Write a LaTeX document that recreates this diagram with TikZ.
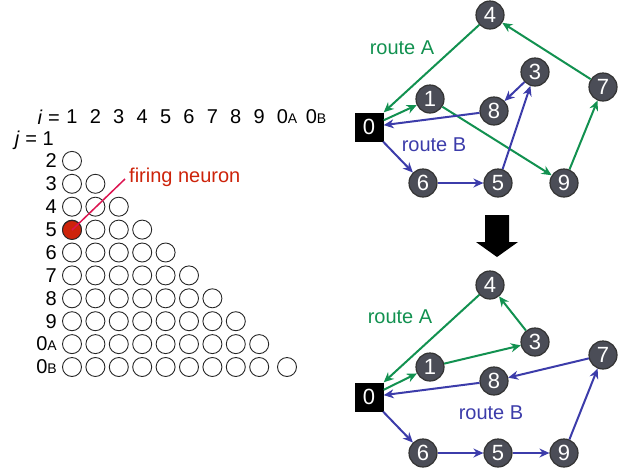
\documentclass[tikz,border=0pt]{standalone}
\usepackage{fontspec}
\setmainfont{Liberation Sans}
\usetikzlibrary{arrows.meta}

\definecolor{routeA}{RGB}{18,145,80}
\definecolor{routeB}{RGB}{60,60,170}
\definecolor{nodegray}{RGB}{75,77,87}
\definecolor{firered}{RGB}{205,35,10}
\definecolor{pinkline}{RGB}{220,20,80}

\newcommand{\sub}[1]{{\fontsize{14}{14}\selectfont #1}}

\begin{document}
\begin{tikzpicture}[x=1pt,y=-1pt,
    city/.style={circle, fill=nodegray, draw=black!80, line width=1.2pt, minimum size=28pt, inner sep=0pt,
                 text=white, font=\fontsize{22}{22}\selectfont},
    depot/.style={rectangle, fill=black, minimum size=29pt, inner sep=0pt,
                  text=white, font=\fontsize{22}{22}\selectfont},
    neuron/.style={circle, draw=black!85, line width=0.9pt, minimum size=19pt, inner sep=0pt},
    lbl/.style={font=\fontsize{20}{20}\selectfont, inner sep=0pt},
    ga/.style={routeA, line width=2pt, -{Stealth[length=10pt,width=9pt]}},
    gb/.style={routeB, line width=2pt, -{Stealth[length=10pt,width=9pt]}}]
    \useasboundingbox (0,0) rectangle (626,472);

    % neuron table
    \node[lbl, anchor=east] (ieq) at (60,117) {\textit{i} =};
    \foreach \c/\t [count=\k] in {1/1,2/2,3/3,4/4,5/5,6/6,7/7,8/8,9/9}
        \node[lbl] (h\c) at (72+23.4*\k-23.4,117) {\t};
    \node[lbl] (hA) at (287,117) {0\sub{A}};
    \node[lbl] (hB) at (316,117) {0\sub{B}};
    \node[lbl, anchor=east] (r1) at (54,140) {\textit{j} = 1};
    \foreach \r/\t [count=\k from 2] in {2/2,3/3,4/4,5/5,6/6,7/7,8/8,9/9,A/0\sub{A},B/0\sub{B}}
        \node[lbl, anchor=east] (r\r) at (57,138+22.9*\k-22.9) {\t};
    \foreach \j in {2,...,10}
        \foreach \c in {2,...,\j}
            \node[neuron] (n\j-\c) at (72+23.4*\c-46.8,138+22.9*\j-22.9) {};
    \foreach \c in {1,...,9}
        \node[neuron] (n11-\c) at (72+23.4*\c-23.4,367) {};
    \node[neuron] (n11-10) at (287,367) {};
    \node[neuron, fill=firered] (fire) at (72,230) {};
    \coordinate (tip) at (125,179);
    \draw[pinkline, line width=1.5pt] (fire.center) -- (tip);
    \node[lbl, text=firered, anchor=west] (firetxt) at (129,177) {firing neuron};

    % route before
    \node[depot] (a0) at (369,127) {0};
    \node[city] (a1) at (430,99) {1};
    \node[city] (a3) at (535,72) {3};
    \node[city] (a4) at (490,15) {4};
    \node[city] (a5) at (498,183) {5};
    \node[city] (a6) at (423,183) {6};
    \node[city] (a7) at (603,87) {7};
    \node[city] (a8) at (494,111) {8};
    \node[city] (a9) at (564,183) {9};
    \draw[ga] (a4) -- (a0.north east);
    \draw[ga] (a0) -- (a1);
    \draw[ga] (a1) -- (a9);
    \draw[ga] (a9) -- (a7);
    \draw[ga] (a7) -- (a4);
    \draw[gb] (a0) -- (a6);
    \draw[gb] (a6) -- (a5);
    \draw[gb] (a5) -- (a3);
    \draw[gb] (a3) -- (a8);
    \draw[gb] (a8) -- (a0);
    \node[lbl, text=routeA] (ra1) at (402,48) {route A};
    \node[lbl, text=routeB] (rb1) at (434,145) {route B};

    % big arrow
    \fill[black] (485,215) -- (509,215) -- (509,242) -- (518,242) -- (497,257)
        -- (476,242) -- (485,242) -- cycle;

    % route after
    \node[depot] (b0) at (369,397) {0};
    \node[city] (b1) at (430,367) {1};
    \node[city] (b3) at (535,342) {3};
    \node[city] (b4) at (490,285) {4};
    \node[city] (b5) at (498,453) {5};
    \node[city] (b6) at (423,453) {6};
    \node[city] (b7) at (603,355) {7};
    \node[city] (b8) at (494,381) {8};
    \node[city] (b9) at (564,453) {9};
    \draw[ga] (b4) -- (b0.north east);
    \draw[ga] (b0) -- (b1);
    \draw[ga] (b1) -- (b3);
    \draw[ga] (b3) -- (b4);
    \draw[gb] (b0) -- (b6);
    \draw[gb] (b6) -- (b5);
    \draw[gb] (b5) -- (b9);
    \draw[gb] (b9) -- (b7);
    \draw[gb] (b7) -- (b8);
    \draw[gb] (b8) -- (b0);
    \node[lbl, text=routeA] (ra2) at (400,317) {route A};
    \node[lbl, text=routeB] (rb2) at (491,413) {route B};
\end{tikzpicture}
\end{document}
